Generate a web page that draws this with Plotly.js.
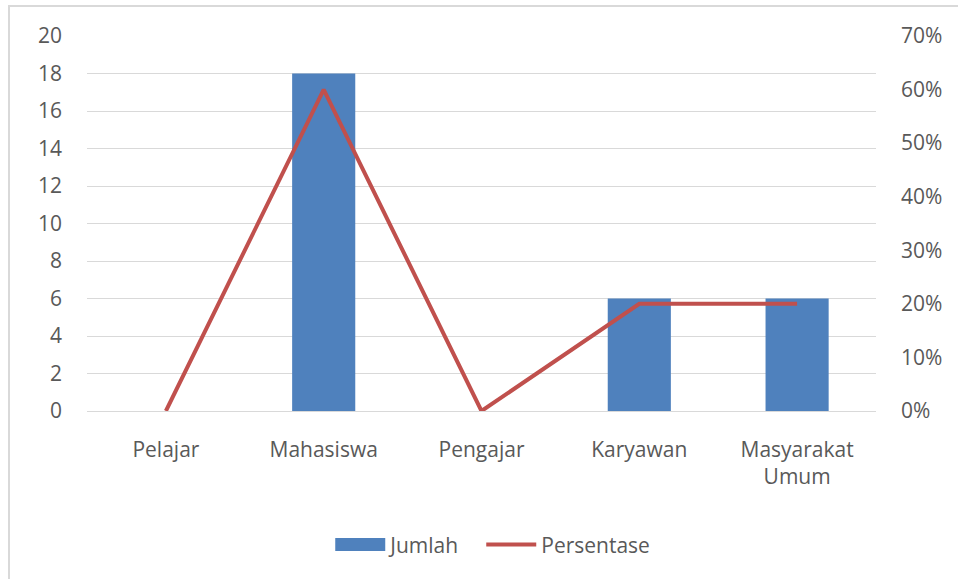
<!DOCTYPE html>
<html>
<head>
<meta charset="utf-8">
<script src="https://cdn.plot.ly/plotly-3.0.1.min.js"></script>
<style>
html,body{margin:0;padding:0;background:#fff;overflow:hidden;}
#frame{position:absolute;left:8px;top:5px;width:1000px;height:620px;border:2px solid #D9D9D9;box-sizing:border-box;}
#chart{position:absolute;left:0;top:0;width:958px;height:579px;}
</style>
</head>
<body>
<div id="frame"></div>
<div id="chart"></div>
<script>
const categories = ["Pelajar", "Mahasiswa", "Pengajar", "Karyawan", "Masyarakat<br>Umum"];
const jumlah = [0, 18, 0, 6, 6];
const persentase = [0, 0.60, 0, 0.20, 0.20];
const leftTicks = [0, 2, 4, 6, 8, 10, 12, 14, 16, 18, 20];
const rightTicks = [0, 0.1, 0.2, 0.3, 0.4, 0.5, 0.6, 0.7];

const font = {family: "Open Sans, Liberation Sans, sans-serif", size: 21, color: "#595959"};

const traces = [
  {type: "bar", name: "Jumlah", x: categories, y: jumlah, marker: {color: "#4F81BD"}, yaxis: "y"},
  {type: "scatter", mode: "lines", name: "Persentase", x: categories, y: persentase,
   line: {color: "#C0504D", width: 4}, yaxis: "y2"}
];

const layout = {
  width: 958, height: 579,
  paper_bgcolor: "rgba(0,0,0,0)", plot_bgcolor: "rgba(0,0,0,0)",
  margin: {l: 87, r: 82, t: 36, b: 168},
  font: font,
  bargap: 0.6,
  showlegend: true,
  legend: {orientation: "h", x: 0.3083, xanchor: "left", y: -0.357, yanchor: "middle",
           font: font, itemwidth: 50, entrywidth: 86, entrywidthmode: "pixels", traceorder: "normal"},
  xaxis: {type: "category", showgrid: false, showline: false, zeroline: false,
          ticks: "", ticklabelstandoff: 24, tickfont: font},
  yaxis: {range: [0, 20], tickvals: leftTicks, showgrid: true, gridcolor: "#D9D9D9", gridwidth: 1,
          zeroline: true, zerolinecolor: "#D9D9D9", zerolinewidth: 1, showline: false,
          ticks: "", ticklabelstandoff: 24, tickfont: font, fixedrange: true},
  yaxis2: {range: [0, 0.7], tickvals: rightTicks, tickformat: ".0%", overlaying: "y", side: "right",
           showgrid: false, zeroline: false, showline: false, ticks: "", ticklabelstandoff: 24,
           tickfont: font}
};

Plotly.newPlot("chart", traces, layout, {staticPlot: true}).then(function (gd) {
  // widen the bar legend swatch to a wide rectangle
  const items = gd.querySelectorAll(".legend .traces");
  if (items.length) {
    const p = items[0].querySelector(".legendpoints path");
    if (p) p.setAttribute("d", "M25,6.5H-25V-6.5H25Z");
  }
  // let legend text extend past the fixed entry width
  gd.querySelectorAll(".legend .scrollbox, .legend [clip-path]").forEach(function (el) {
    el.removeAttribute("clip-path");
  });
});
</script>
</body>
</html>
